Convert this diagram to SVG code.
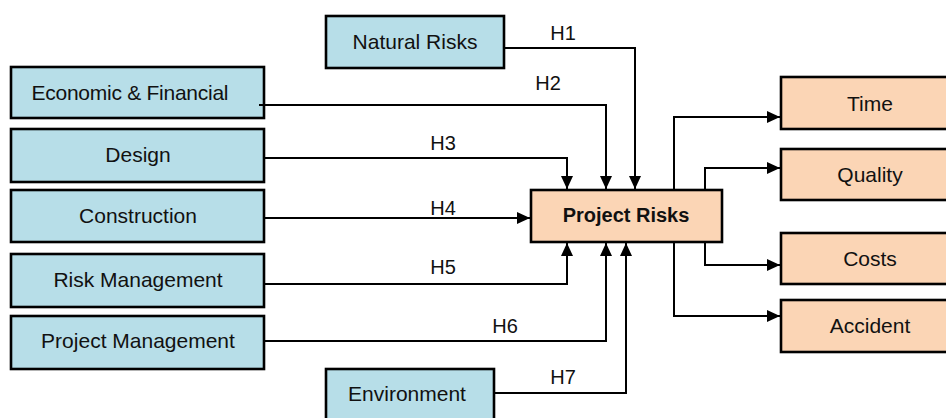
<svg xmlns="http://www.w3.org/2000/svg" width="946" height="418" viewBox="0 0 946 418">
<defs>
<marker id="arr" markerUnits="userSpaceOnUse" markerWidth="14" markerHeight="14" viewBox="0 0 14 14" refX="13" refY="7" orient="auto">
<path d="M0,1 L13,7 L0,13 Z" fill="#000"/>
</marker>
</defs>
<style>
.b{fill:#B7DEE8;stroke:#000;stroke-width:2.6}
.o{fill:#FBD5B5;stroke:#000;stroke-width:2.6}
text{font-family:"Liberation Sans",Arial,sans-serif;font-size:21px;fill:#111;text-anchor:middle}
.bold{font-weight:bold;font-size:20px}
.h{font-size:20px}
.c{fill:none;stroke:#000;stroke-width:2;marker-end:url(#arr)}
</style>
<rect width="946" height="418" fill="#fff"/>
<g id="natural"><rect class="b" x="326" y="16" width="178" height="52"/><text x="415" y="49">Natural Risks</text></g>
<g id="economic"><rect class="b" x="11" y="67" width="253" height="51"/><text x="130" y="100" textLength="197">Economic &amp; Financial</text></g>
<g id="design"><rect class="b" x="11" y="129" width="253" height="53"/><text x="138" y="162">Design</text></g>
<g id="construction"><rect class="b" x="11" y="190" width="253" height="52"/><text x="138" y="223">Construction</text></g>
<g id="riskmgmt"><rect class="b" x="11" y="254" width="253" height="53"/><text x="138" y="287">Risk Management</text></g>
<g id="projmgmt"><rect class="b" x="11" y="316" width="253" height="53"/><text x="138" y="348">Project Management</text></g>
<g id="environment"><rect class="b" x="326" y="369" width="168" height="52"/><text x="407" y="401">Environment</text></g>
<g id="projectrisks"><rect class="o" x="531" y="190" width="191" height="52"/><text class="bold" x="626" y="222">Project Risks</text></g>
<g id="time"><rect class="o" x="781" y="77" width="168" height="52"/><text x="870" y="111">Time</text></g>
<g id="quality"><rect class="o" x="781" y="149" width="168" height="51"/><text x="870" y="182">Quality</text></g>
<g id="costs"><rect class="o" x="781" y="233" width="168" height="51"/><text x="870" y="266">Costs</text></g>
<g id="accident"><rect class="o" x="781" y="300" width="168" height="52"/><text x="870" y="333">Accident</text></g>
<g id="connectors">
<path class="c" d="M504,48 H635 V189"/>
<path class="c" d="M259,105 H606 V189"/>
<path class="c" d="M264,158 H567 V189"/>
<path class="c" d="M264,218 H530"/>
<path class="c" d="M264,284 H567 V243"/>
<path class="c" d="M264,341 H606 V243"/>
<path class="c" d="M494,393 H626 V243"/>
<path class="c" d="M674,190 V117 H780"/>
<path class="c" d="M705,190 V168 H780"/>
<path class="c" d="M705,242 V265 H780"/>
<path class="c" d="M674,242 V316 H780"/>
</g>
<g id="labels">
<text class="h" x="563" y="40">H1</text>
<text class="h" x="548" y="90">H2</text>
<text class="h" x="443" y="150">H3</text>
<text class="h" x="443" y="215">H4</text>
<text class="h" x="443" y="274">H5</text>
<text class="h" x="505" y="333">H6</text>
<text class="h" x="563" y="384">H7</text>
</g>
</svg>
